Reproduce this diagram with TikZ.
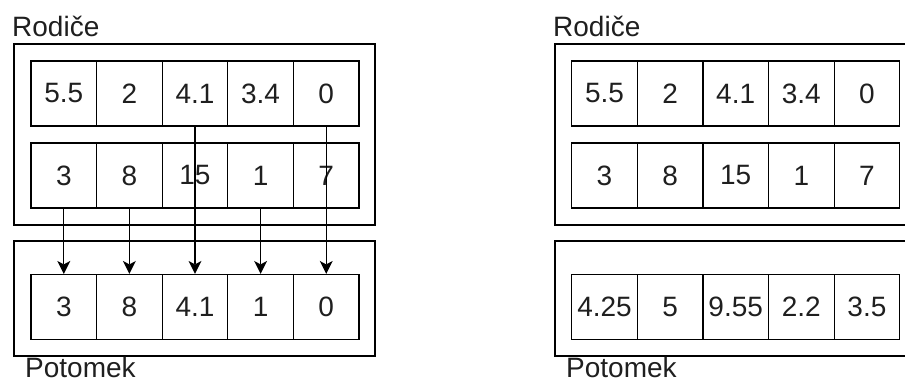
\documentclass[tikz,border=0pt]{standalone}
\usepackage{fontspec}
\setmainfont{Liberation Sans}
\usetikzlibrary{arrows.meta}
\definecolor{txt}{HTML}{1F1F1F}
\tikzset{
  cell/.style={draw, line width=1.2pt, minimum width=65.6pt, minimum height=65pt, inner sep=0pt, text=txt, font=\fontsize{28}{30}\selectfont},
  frame/.style={draw, line width=1.2pt},
  lbl/.style={anchor=base west, inner sep=0pt, text=txt, font=\fontsize{28}{30}\selectfont},
  conn/.style={line width=1.3pt, -{Stealth[length=13pt, width=13pt, inset=3.5pt, line width=0pt]}}
}
\begin{document}
\begin{tikzpicture}[x=1pt, y=-1pt]
\useasboundingbox (0,0) rectangle (905,382);
\clip (0,0) rectangle (905,382);
% outer frames
\draw[frame] (14,44) rectangle (375,225);
\draw[frame] (14,241) rectangle (375,356);
\draw[frame] (555,44) rectangle (916,225);
\draw[frame] (555,241) rectangle (916,356);
% labels
\node[lbl] (lrod) at (12,36.5) {Rodiče};
\node[lbl] (lpot) at (25,377.5) {Potomek};
\node[lbl] (rrod) at (553,36.5) {Rodiče};
\node[lbl] (rpot) at (566,377.5) {Potomek};
% left cells
\foreach \v [count=\i from 0] in {5.5,2,4.1,3.4,0}
  \node[cell] (LA\i) at (63.8+65.6*\i,93.5) {\v};
\foreach \v [count=\i from 0] in {3,8,15,1,7}
  \node[cell] (LB\i) at (63.8+65.6*\i,175.5) {\v};
\foreach \v [count=\i from 0] in {3,8,4.1,1,0}
  \node[cell] (LC\i) at (63.8+65.6*\i,307) {\v};
% right cells
\foreach \v [count=\i from 0] in {5.5,2,4.1,3.4,0}
  \node[cell] (RA\i) at (604.5+65.6*\i,93.5) {\v};
\foreach \v [count=\i from 0] in {3,8,15,1,7}
  \node[cell] (RB\i) at (604.5+65.6*\i,175.5) {\v};
\foreach \v [count=\i from 0] in {4.25,5,9.55,2.2,3.5}
  \node[cell] (RC\i) at (604.5+65.6*\i,307) {\v};
% connectors
\draw[conn] (LB0.south) -- (LC0.north);
\draw[conn] (LB1.south) -- (LC1.north);
\draw[conn] (LA2.south) -- (LC2.north);
\draw[conn] (LB3.south) -- (LC3.north);
\draw[conn] (LA4.south) -- (LC4.north);
\end{tikzpicture}
\end{document}
